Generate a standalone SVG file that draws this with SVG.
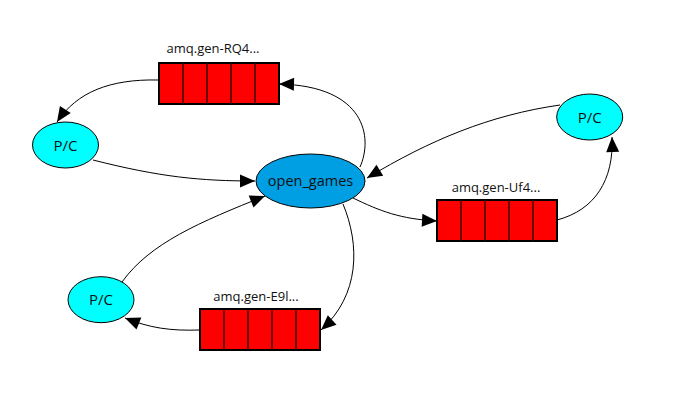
<svg xmlns="http://www.w3.org/2000/svg" width="675" height="403" viewBox="0 0 675 403">
<defs>
<marker id="arr" markerUnits="userSpaceOnUse" markerWidth="16" markerHeight="13" refX="15" refY="6.5" orient="auto" overflow="visible">
<path d="M0,0 L15,6.5 L0,13 z" fill="#000"/>
</marker>
<style>
.edge{fill:none;stroke:#000;stroke-width:1;marker-end:url(#arr)}
.pc{fill:#00ffff;stroke:#000;stroke-width:1}
.ex{fill:#009fe3;stroke:#000;stroke-width:1}
.q{fill:#ff0000;stroke:#000;stroke-width:2}
.div{stroke:#3a0000;stroke-width:1.5}
.t{font-family:"Open Sans","Noto Sans",sans-serif;fill:#111;text-anchor:middle}
.ql{font-size:13px}
.nl{font-size:15px}
</style>
</defs>
<rect width="675" height="403" fill="#fff"/>
<g id="connectors">
<path class="edge" d="M360,167 C373,138 366,86 279,84"/>
<path class="edge" d="M158,80 C110,79 77,92 57,122"/>
<path class="edge" d="M93,160 C160,177 200,181 255,181"/>
<path class="edge" d="M560,105 C490,115 430,140 367,178"/>
<path class="edge" d="M353,198 C380,211 400,219 437,221"/>
<path class="edge" d="M557,220 C595,210 614,180 612,137"/>
<path class="edge" d="M343,204 C360,245 360,295 321,330"/>
<path class="edge" d="M200,330 C170,331 150,328 125,318"/>
<path class="edge" d="M122,282 C150,243 200,222 265,196"/>
</g>
<g id="queue-rq4">
<rect class="q" x="159" y="63" width="120" height="41"/>
<path class="div" d="M183,63V104M207,63V104M231,63V104M255,63V104"/>
<text class="t ql" x="213" y="53">amq.gen-RQ4...</text>
</g>
<g id="queue-uf4">
<rect class="q" x="437" y="200" width="120" height="41"/>
<path class="div" d="M461,200V241M485,200V241M509,200V241M533,200V241"/>
<text class="t ql" x="496" y="192">amq.gen-Uf4...</text>
</g>
<g id="queue-e9l">
<rect class="q" x="200" y="309" width="120" height="41"/>
<path class="div" d="M224,309V350M248,309V350M272,309V350M296,309V350"/>
<text class="t ql" x="256" y="301">amq.gen-E9l...</text>
</g>
<g id="exchange-open-games">
<ellipse class="ex" cx="310.5" cy="181" rx="54.5" ry="27"/>
<text class="t" x="310.5" y="186" font-size="14.5">open_games</text>
</g>
<g id="pc-left">
<ellipse class="pc" cx="65.5" cy="145" rx="33" ry="23"/>
<text class="t nl" x="65.5" y="150.5">P/C</text>
</g>
<g id="pc-right">
<ellipse class="pc" cx="589.7" cy="117" rx="33" ry="23"/>
<text class="t nl" x="589.7" y="122.5">P/C</text>
</g>
<g id="pc-bottom">
<ellipse class="pc" cx="101" cy="299.7" rx="33" ry="23"/>
<text class="t nl" x="101" y="305">P/C</text>
</g>
</svg>
